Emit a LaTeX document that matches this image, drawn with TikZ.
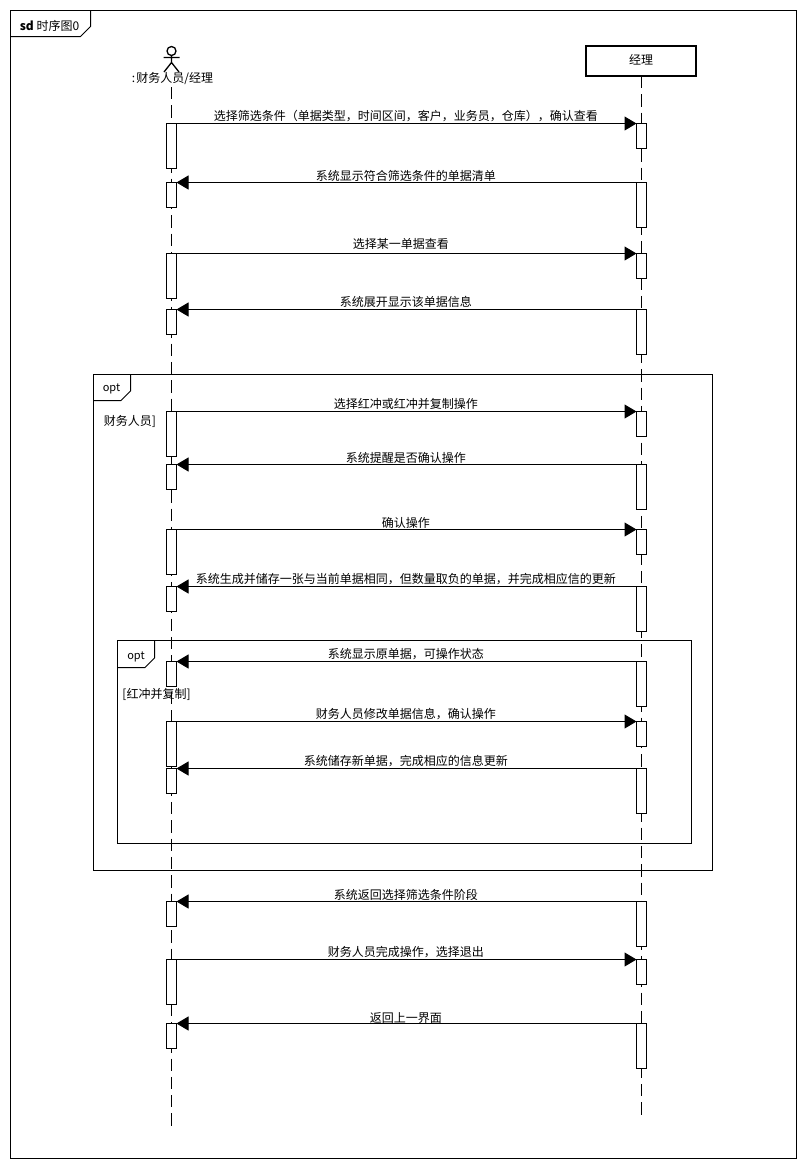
\documentclass[tikz,border=0pt]{standalone}
\usepackage{fontspec}
\setmainfont{Noto Sans CJK SC}
\usetikzlibrary{arrows.meta}
\tikzset{
  lifebox/.style={draw,line width=2pt,fill=white,outer sep=0pt,minimum width=110pt,minimum height=30pt,inner sep=0pt,font=\fontsize{12pt}{12pt}\selectfont},
  lifeline/.style={line width=1pt,dash pattern=on 12.33pt off 6pt},
  actbox/.style={draw,line width=1pt,fill=white,outer sep=0pt,minimum width=10pt,inner sep=0pt,anchor=north},
  msg/.style={line width=1pt,-{Triangle[length=12pt,width=14pt]}},
  msgtext/.style={midway,above,inner sep=0pt,xshift=-0.75pt,yshift=1pt,font=\fontsize{12pt}{12pt}\selectfont},
  plaintext/.style={inner sep=0pt,font=\fontsize{12pt}{12pt}\selectfont},
  opttext/.style={inner sep=0pt,font=\fontsize{11pt}{11pt}\selectfont},
  framebox/.style={line width=1pt}
}
\begin{document}
\begin{tikzpicture}[x=1pt,y=-1pt]
  \useasboundingbox (0,0) rectangle (806,1168);
  % frames
  \draw[framebox] (10.5,10.5) rectangle (796.5,1158.5);
  \draw[framebox] (10.5,36.5) -- (80.5,36.5) -- (90.5,26.5) -- (90.5,10.5);
  \node[plaintext] (sdlabel) at (49.5,25.5) {\textbf{sd} 时序图0};
  \draw[framebox] (93.5,374.5) rectangle (712.5,870.5);
  \draw[framebox] (93.5,400.5) -- (121,400.5) -- (130.5,391) -- (130.5,374.5);
  \node[opttext] (optouter) at (111.5,388.5) {opt};
  \node[plaintext] (guardouter) at (130,421) {财务人员]};
  \draw[framebox] (117.5,640.5) rectangle (691.5,843.5);
  \draw[framebox] (117.5,667.5) -- (145,667.5) -- (154.5,658) -- (154.5,640.5);
  \node[opttext] (optinner) at (136,656.5) {opt};
  % actor
  \draw[line width=1.3pt] (171.5,51) circle (4.5);
  \draw[line width=1.3pt] (171.5,55.5) -- (171.5,62.5) (163.5,57.5) -- (179.5,57.5)
    (164,72) -- (171.5,62.5) -- (179,72);
  \node[plaintext] (staff) at (172.5,79) {:\hspace{1pt}财务人员/经理};
  \node[lifebox] (manager) at (641,61) {\raisebox{3pt}{经理}};
  % lifelines
  \coordinate (staffhead) at (171.5,87);
  \coordinate (stafftail) at (171.5,1126);
  \coordinate (managertail) at (641.5,1115);
  \coordinate (managerhead) at (641.5,76);
  \draw[lifeline] (staffhead) -- (stafftail);
  \draw[lifeline] (managerhead) -- (managertail);
  % activations
  \node[actbox,minimum height=45pt] (s1) at (171.5,123.5) {};
  \node[actbox,minimum height=25pt] (m1) at (641.5,123.5) {};
  \node[actbox,minimum height=45pt] (m2) at (641.5,182.5) {};
  \node[actbox,minimum height=25pt] (s2) at (171.5,182.5) {};
  \node[actbox,minimum height=45pt] (s3) at (171.5,253.5) {};
  \node[actbox,minimum height=25pt] (m3) at (641.5,253.5) {};
  \node[actbox,minimum height=45pt] (m4) at (641.5,309.5) {};
  \node[actbox,minimum height=25pt] (s4) at (171.5,309.5) {};
  \node[actbox,minimum height=45pt] (s5) at (171.5,411.5) {};
  \node[actbox,minimum height=25pt] (m5) at (641.5,411.5) {};
  \node[actbox,minimum height=45pt] (m6) at (641.5,464.5) {};
  \node[actbox,minimum height=25pt] (s6) at (171.5,464.5) {};
  \node[actbox,minimum height=45pt] (s7) at (171.5,529.5) {};
  \node[actbox,minimum height=25pt] (m7) at (641.5,529.5) {};
  \node[actbox,minimum height=45pt] (m8) at (641.5,586.5) {};
  \node[actbox,minimum height=25pt] (s8) at (171.5,586.5) {};
  \node[actbox,minimum height=45pt] (m9) at (641.5,661.5) {};
  \node[actbox,minimum height=25pt] (s9) at (171.5,661.5) {};
  \node[actbox,minimum height=45pt] (s10) at (171.5,721.5) {};
  \node[actbox,minimum height=25pt] (m10) at (641.5,721.5) {};
  \node[actbox,minimum height=45pt] (m11) at (641.5,768.5) {};
  \node[actbox,minimum height=25pt] (s11) at (171.5,768.5) {};
  \node[actbox,minimum height=45pt] (m12) at (641.5,901.5) {};
  \node[actbox,minimum height=25pt] (s12) at (171.5,901.5) {};
  \node[actbox,minimum height=45pt] (s13) at (171.5,959.5) {};
  \node[actbox,minimum height=25pt] (m13) at (641.5,959.5) {};
  \node[actbox,minimum height=45pt] (m14) at (641.5,1023.5) {};
  \node[actbox,minimum height=25pt] (s14) at (171.5,1023.5) {};
  % messages
  \draw[msg] (s1.north east) -- node[msgtext] {选择筛选条件（单据类型，时间区间，客户，业务员，仓库），确认查看} (m1.north west);
  \draw[msg] (m2.north west) -- node[msgtext] {系统显示符合筛选条件的单据清单} (s2.north east);
  \draw[msg] (s3.north east) -- node[msgtext,xshift=-5pt,yshift=3pt] {选择某一单据查看} (m3.north west);
  \draw[msg] (m4.north west) -- node[msgtext] {系统展开显示该单据信息} (s4.north east);
  \draw[msg] (s5.north east) -- node[msgtext] {选择红冲或红冲并复制操作} (m5.north west);
  \draw[msg] (m6.north west) -- node[msgtext] {系统提醒是否确认操作} (s6.north east);
  \draw[msg] (s7.north east) -- node[msgtext] {确认操作} (m7.north west);
  \draw[msg] (m8.north west) -- node[msgtext] {系统生成并储存一张与当前单据相同，但数量取负的单据，并完成相应信的更新} (s8.north east);
  \draw[msg] (m9.north west) -- node[msgtext] {系统显示原单据，可操作状态} (s9.north east);
  \draw[msg] (s10.north east) -- node[msgtext] {财务人员修改单据信息，确认操作} (m10.north west);
  \draw[msg] (m11.north west) -- node[msgtext] {系统储存新单据，完成相应的信息更新} (s11.north east);
  \draw[msg] (m12.north west) -- node[msgtext] {系统返回选择筛选条件阶段} (s12.north east);
  \draw[msg] (s13.north east) -- node[msgtext] {财务人员完成操作，选择退出} (m13.north west);
  \draw[msg] (m14.north west) -- node[msgtext,yshift=-2pt] {返回上一界面} (s14.north east);
  % guard drawn over the activation
  \node[plaintext] (guardinner) at (156.5,694) {[红冲并复制]};
\end{tikzpicture}
\end{document}
